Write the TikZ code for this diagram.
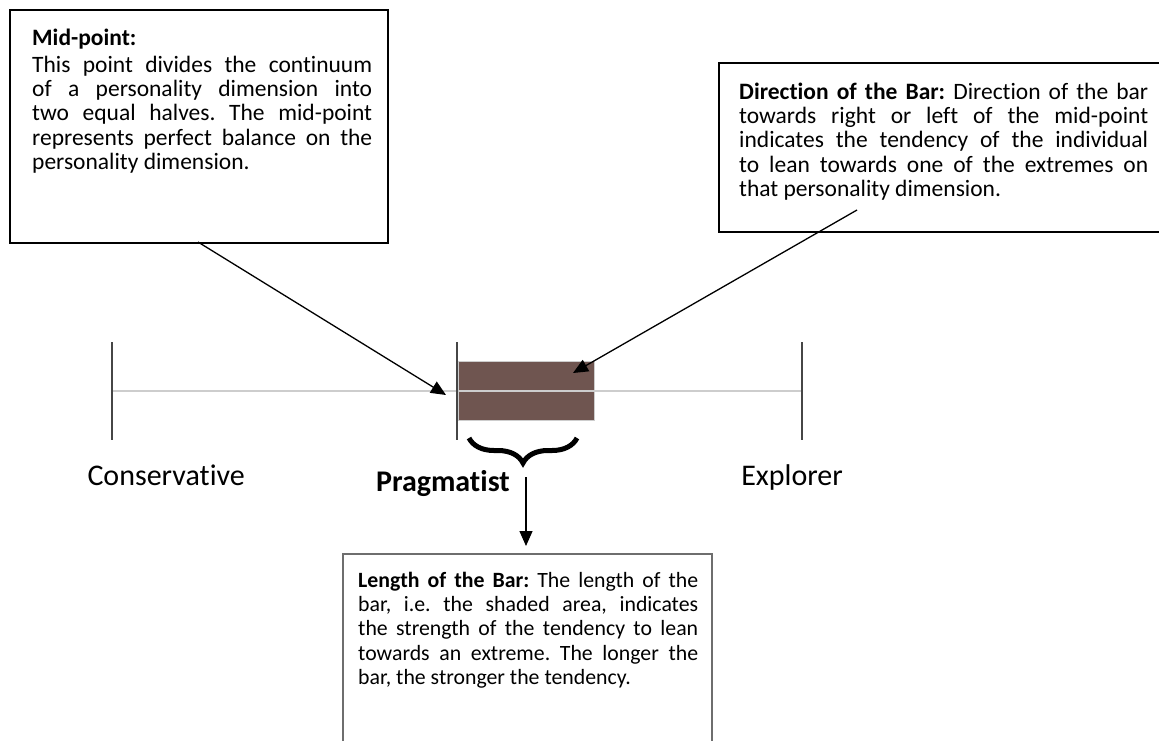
\documentclass[tikz,border=0pt]{standalone}
\usepackage{fontspec}
\setmainfont{Carlito}[Ligatures={NoCommon}]
\usetikzlibrary{arrows.meta,decorations.pathreplacing}
\definecolor{barfill}{RGB}{111,85,80}
\definecolor{axisgray}{RGB}{205,205,205}
\definecolor{tickgray}{RGB}{70,70,70}
\definecolor{boxgray}{RGB}{110,110,110}
\begin{document}
\frenchspacing
\begin{tikzpicture}[x=1pt,y=-1pt,
  boxline/.style={draw=black,line width=1.6pt},
  txt/.style={inner sep=0pt,anchor=north west,align=justify,font=\fontsize{23.5}{24.3}\selectfont\frenchspacing},
  ptr/.style={-{Triangle[length=15pt,width=13pt]},line width=1.3pt},
  tickline/.style={draw=tickgray,line width=2.5pt},
  biglbl/.style={inner sep=0pt,anchor=base east,font=\fontsize{30}{34}\selectfont}
]
\useasboundingbox (0,0) rectangle (1159,740);

% boxes
\node[boxline,minimum width=378,minimum height=233,anchor=north west,inner sep=0pt] (mid) at (9,9) {};
\coordinate (dirTL) at (719,63);
\coordinate (dirBL) at (719,232);
\draw[boxline] (1162,63) -- (dirTL) -- (dirBL) -- (1162,232);
\coordinate (lenTL) at (343,554);
\coordinate (lenTR) at (712,554);
\draw[draw=boxgray,line width=1.2pt] (343,745) -- (lenTL) -- (lenTR) -- (712,745);

% box texts
\node[txt,text width=340] (midtxt) at (32,28) {\strut\textbf{Mid-point:}\\[2.7pt]
\strut This point divides the continuum\linebreak
of a personality dimension into\linebreak
two equal halves. The mid-point\linebreak
represents perfect balance on the\linebreak
personality dimension.};

\node[txt,text width=409] (dirtxt) at (739,82) {\strut\textbf{Direction of the Bar:} Direction of the bar\linebreak
towards right or left of the mid-point\linebreak
indicates the tendency of the individual\linebreak
to lean towards one of the extremes on\linebreak
that personality dimension.};

\node[txt,text width=340,font=\fontsize{21.8}{24.3}\selectfont\frenchspacing] (lentxt) at (358,570) {\strut\textbf{Length of the Bar:} The length of the\linebreak
bar, i.e. the shaded area, indicates\linebreak
the strength of the tendency to lean\linebreak
towards an extreme. The longer the\linebreak
bar, the stronger the tendency.};

% scale
\fill[barfill,draw=axisgray,line width=0.6pt] (458,361) rectangle (594,420);
\coordinate (left) at (112,391);
\coordinate (right) at (802,391);
\draw[draw=axisgray,line width=2pt] (left) -- (right);
\draw[tickline] (112,342) -- (112,440);
\draw[tickline] (457,342) -- (457,440);
\draw[tickline] (802,342) -- (802,440);

% labels
\node[biglbl] (cons) at (245,485) {Conservative};
\node[biglbl] (expl) at (843,485) {Explorer};
\node[biglbl,font=\fontsize{30}{34}\selectfont\bfseries] (prag) at (510,491) {Pragmatist};

% brace
\draw[line width=5pt,decorate,decoration={brace,amplitude=25pt,aspect=0.5}] (577,438) -- (469,438);

% arrows
\coordinate (a1s) at (198,242);
\coordinate (a1e) at (446,395);
\draw[ptr] (a1s) -- (a1e);
\coordinate (a2s) at (857,210);
\coordinate (a2e) at (573,373);
\draw[ptr] (a2s) -- (a2e);
\coordinate (a3s) at (526,477);
\coordinate (a3e) at (526,546);
\draw[ptr] (a3s) -- (a3e);
\end{tikzpicture}
\end{document}
